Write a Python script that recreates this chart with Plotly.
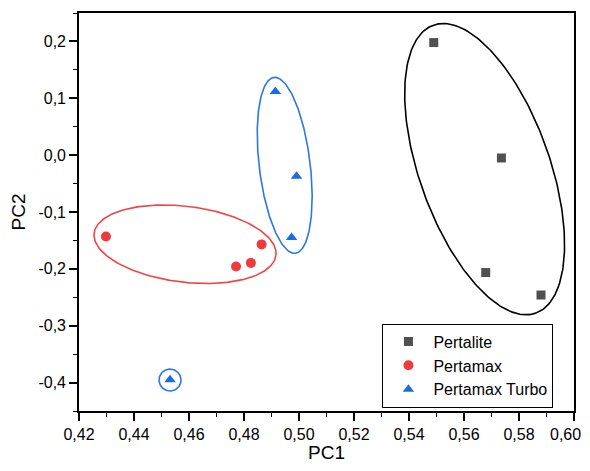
import numpy as np
import plotly.graph_objects as go

# ---- data ----
pertalite_pc1 = [0.549, 0.5736, 0.5679, 0.588]
pertalite_pc2 = [0.198, -0.005, -0.2065, -0.246]

pertamax_pc1 = [0.4298, 0.4771, 0.4825, 0.4864]
pertamax_pc2 = [-0.143, -0.196, -0.1895, -0.157]

turbo_pc1 = [0.4914, 0.4991, 0.4973, 0.4531]
turbo_pc2 = [0.112, -0.037, -0.145, -0.395]

x_tickvals = [0.42, 0.44, 0.46, 0.48, 0.50, 0.52, 0.54, 0.56, 0.58, 0.60]
x_ticktext = ["0,42", "0,44", "0,46", "0,48", "0,50", "0,52", "0,54", "0,56", "0,58", "0,60"]
y_tickvals = [-0.4, -0.3, -0.2, -0.1, 0.0, 0.1, 0.2]
y_ticktext = ["-0,4", "-0,3", "-0,2", "-0,1", "0,0", "0,1", "0,2"]

# group ellipses: center, semi-axis vector 1, semi-axis vector 2 (data units)
ell_black = dict(c=(0.5675, -0.0246), u=(0.01858, -0.2533), v=(0.02236, 0.0382))
ell_blue = dict(c=(0.4948, -0.0179), u=(0.00388, -0.1547), v=(0.0092, 0.00537))
ell_red = dict(c=(0.45855, -0.1567), u=(0.03306, -0.01958), v=(-0.00168, -0.0662))
ell_blue_small = dict(c=(0.4531, -0.3955), u=(0.0040, 0.0), v=(0.0, 0.0193))

GRAY = "#505050"
RED = "#ef3b3b"
BLUE = "#1a6de0"
FONT = "Liberation Sans, Arial, sans-serif"


def ellipse(e):
    t = np.linspace(0, 2 * np.pi, 241)
    x = e["c"][0] + e["u"][0] * np.cos(t) + e["v"][0] * np.sin(t)
    y = e["c"][1] + e["u"][1] * np.cos(t) + e["v"][1] * np.sin(t)
    return x, y


fig = go.Figure()

for e, col in [(ell_black, "#000000"), (ell_blue, "#2a78e4"), (ell_red, "#f04444"),
               (ell_blue_small, "#2a78e4")]:
    ex, ey = ellipse(e)
    fig.add_trace(go.Scatter(x=ex, y=ey, mode="lines", line=dict(color=col, width=1.6),
                             showlegend=False, hoverinfo="skip"))

fig.add_trace(go.Scatter(x=pertalite_pc1, y=pertalite_pc2, mode="markers", name="Pertalite",
                         marker=dict(symbol="square", size=9, color=GRAY)))
fig.add_trace(go.Scatter(x=pertamax_pc1, y=pertamax_pc2, mode="markers", name="Pertamax",
                         marker=dict(symbol="circle", size=10, color=RED)))
fig.add_trace(go.Scatter(x=turbo_pc1, y=turbo_pc2, mode="markers", name="Pertamax Turbo",
                         marker=dict(symbol="triangle-up", size=10, color=BLUE)))

axis_common = dict(
    showgrid=False, zeroline=False, showline=True, linecolor="#000000", linewidth=1.6,
    mirror=True, ticks="outside", ticklen=8, tickwidth=1.6, tickcolor="#000000",
    tickfont=dict(family=FONT, size=16, color="#000000"), automargin=False,
)

# last x tick label is drawn as an annotation nudged inward so it stays inside the view
shown_x_ticktext = x_ticktext[:-1] + [""]

fig.update_xaxes(
    range=[0.42, 0.60], tickvals=x_tickvals, ticktext=shown_x_ticktext,
    minor=dict(ticks="outside", ticklen=4, tickwidth=1.4, tickcolor="#000000", dtick=0.01,
               tick0=0.42, showgrid=False),
    title=dict(text="PC1", font=dict(family=FONT, size=19, color="#000000"), standoff=12),
    **axis_common,
)
fig.update_yaxes(
    range=[-0.45, 0.25], tickvals=y_tickvals, ticktext=y_ticktext,
    minor=dict(ticks="outside", ticklen=4, tickwidth=1.4, tickcolor="#000000", dtick=0.05,
               tick0=0.0, showgrid=False),
    title=dict(text="PC2", font=dict(family=FONT, size=19, color="#000000"), standoff=12),
    **axis_common,
)

fig.add_annotation(
    x=x_tickvals[-1], xref="x", y=0, yref="paper",
    text=x_ticktext[-1], showarrow=False,
    xanchor="center", yanchor="middle", xshift=-9, yshift=-23,
    font=dict(family=FONT, size=16, color="#000000"),
)

# the page body adds an 8px offset, so the figure is shrunk to avoid page overflow
fig.update_layout(
    width=582, height=455,
    margin=dict(l=71, r=16, t=5, b=52),
    plot_bgcolor="#ffffff", paper_bgcolor="#ffffff",
    font=dict(family=FONT, color="#000000"),
    showlegend=True,
    legend=dict(
        x=0.613, y=0.114, xanchor="left", yanchor="middle",
        bgcolor="#ffffff", bordercolor="#000000", borderwidth=1,
        font=dict(family=FONT, size=16, color="#000000"),
        itemwidth=40, tracegroupgap=0,
    ),
)

fig.write_html("out.html")
